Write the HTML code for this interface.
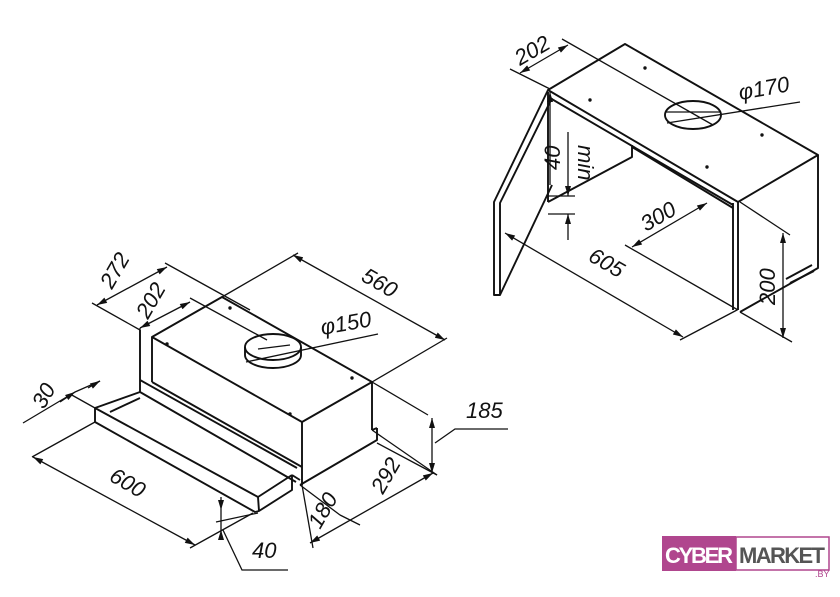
<!DOCTYPE html>
<html><head><meta charset="utf-8"><style>
html,body{margin:0;padding:0;background:#fff;}
svg{display:block}
text{font-family:"Liberation Sans",sans-serif;font-style:italic;fill:#111;}
</style></head><body>
<svg width="840" height="597" viewBox="0 0 840 597" xmlns="http://www.w3.org/2000/svg">
<defs>
<marker id="a" viewBox="0 0 10 6" refX="10" refY="3" markerWidth="11" markerHeight="6" orient="auto-start-reverse" markerUnits="userSpaceOnUse"><path d="M0,0 L10,3 L0,6 z" fill="#111"/></marker>
</defs>
<g stroke="#111" fill="none" stroke-width="1.3">
<!-- dims left -->
<path d="M97,305 L167,267" marker-start="url(#a)" marker-end="url(#a)"/>
<path d="M165,263 L250,310 M92,303 L140,330 M140,328 L140,340"/>
<path d="M140,328 L190,302" marker-start="url(#a)" marker-end="url(#a)"/>
<path d="M190,298 L267,340"/>
<path d="M293,255 L445,340" marker-start="url(#a)" marker-end="url(#a)"/>
<path d="M298,253 L222,297 M372,382 L447,338"/>
<path d="M246,362 L378,334 M258,349 L290,345"/>
<path d="M23,423 L75,392 M75,392 L100,381" />
<path d="M60,402 L75,392" marker-end="url(#a)"/>
<path d="M100,381 L88,388" marker-start="url(#a)"/>
<path d="M70,394 L95,408"/>
<path d="M33,457 L195,545" marker-start="url(#a)" marker-end="url(#a)"/>
<path d="M95,422 L32,457 M253,513 L190,548"/>
<path d="M221,497 L221,510" marker-end="url(#a)"/>
<path d="M221,540 L221,530" marker-end="url(#a)"/>
<path d="M221,510 L221,530 M216,522 L258,513 M223,530 L242,570 L288,570"/>
<path d="M300,485 L340,515 M340,515 L360,525"/>
<path d="M310,543 L433,473" marker-start="url(#a)" marker-end="url(#a)"/>
<path d="M377,443 L437,475 M302,485 L313,548"/>
<path d="M432,418 L432,473" marker-start="url(#a)" marker-end="url(#a)"/>
<path d="M372,382 L428,415 M372,430 L437,475 M435,443 L455,429 L508,429"/>
<!-- dims right -->
<path d="M667,123 L800,102 M666,112 L720,112"/>
<path d="M520,73 L568,45" marker-start="url(#a)" marker-end="url(#a)"/>
<path d="M510,69 L550,89 M562,39 L713,125"/>
<path d="M550,107 L550,92" marker-end="url(#a)"/>
<path d="M550,107 L550,185"/>
<path d="M568,132 L568,196" marker-end="url(#a)"/>
<path d="M568,240 L568,214" marker-end="url(#a)"/>
<path d="M548,196 L575,196 M548,214 L575,214"/>
<path d="M632,247 L707,203" marker-start="url(#a)" marker-end="url(#a)"/>
<path d="M625,245 L738,310"/>
<path d="M505,233 L683,337" marker-start="url(#a)" marker-end="url(#a)"/>
<path d="M680,340 L737,310"/>
<path d="M783,233 L783,338" marker-start="url(#a)" marker-end="url(#a)"/>
<path d="M740,312 L792,342 M740,202 L790,235"/>
</g>
<g stroke="#111" fill="none" stroke-width="1.9" stroke-linejoin="round">
<!-- LEFT HOOD -->
<path d="M152,337 L222,297 L372,382 L302,422 Z"/>
<path d="M302,422 L302,467 M372,382 L372,430 M152,337 L152,382"/>
<path d="M140,330 L140,392 M140,380 L297,468 M140,392 L296,482 M152,382 L302,467"/>
<path d="M377,428 L377,440 L300,485 M372,430 L377,428 M302,467 L302,485 M292,475 L300,480"/>
<path d="M95,408 L258,497 L292,475 M95,408 L95,422 L255,512 L259,511 L258,497 M259,511 L292,490 L292,475"/>
<path d="M95,408 L140,392 M110,412 L140,398"/>
<ellipse cx="273" cy="347" rx="28" ry="13"/>
<path d="M245,347 L245,355 M301,347 L301,355 M245,355 A28,13 0 0 0 301,355"/>
<!-- RIGHT CABINET -->
<path d="M548,90 L625,44 L818,155 L738,202 Z"/>
<path d="M818,155 L818,268 L740,312 M738,202 L738,310 M733,203 L733,310 M550,98 L733,205"/>
<path d="M632,145 L632,157 L548,202 M632,147 L733,208 M548,92 L548,202"/>
<path d="M548,90 L494,202 L494,295 L500,295 L500,203 L552,98 M500,295 L552,185"/>
<path d="M786,279 L812,265 M790,283 L814,271"/>
<ellipse cx="693" cy="115" rx="28" ry="14"/>
</g>
<g fill="#111">
<circle cx="230" cy="308" r="1.7"/><circle cx="167" cy="344" r="1.7"/><circle cx="352" cy="378" r="1.7"/><circle cx="290" cy="414" r="1.7"/>
<circle cx="645" cy="68" r="1.7"/><circle cx="590" cy="100" r="1.7"/><circle cx="762" cy="135" r="1.7"/><circle cx="707" cy="167" r="1.7"/>
</g>
<g font-size="22">
<text transform="translate(112,290) rotate(-60)">272</text>
<text transform="translate(148,320) rotate(-60)">202</text>
<text transform="translate(360,280) rotate(30)">560</text>
<text transform="translate(322,335) rotate(-10)">φ150</text>
<text transform="translate(44,410) rotate(-60)">30</text>
<text transform="translate(108,480) rotate(30)">600</text>
<text x="252" y="558">40</text>
<text transform="translate(320,530) rotate(-60)">180</text>
<text transform="translate(383,495) rotate(-60)">292</text>
<text x="466" y="418">185</text>
<text transform="translate(520,66) rotate(-30)">202</text>
<text transform="translate(740,100) rotate(-10)">φ170</text>
<text transform="translate(560,170) rotate(-90)">40</text>
<text transform="translate(578,145) rotate(90)">min</text>
<text transform="translate(646,232) rotate(-30)">300</text>
<text transform="translate(587,260) rotate(30)">605</text>
<text transform="translate(775,305) rotate(-90)">200</text>
</g>
<!-- logo -->
<rect x="662" y="536" width="74" height="35" fill="#b0468e"/>
<rect x="736" y="537" width="93" height="33" fill="#fff" stroke="#b0468e" stroke-width="1.5"/>
<text x="665" y="563" font-size="22" textLength="68" style="font-style:normal;fill:#fff;font-weight:bold">CYBER</text>
<text x="739" y="563" font-size="22" textLength="86" style="font-style:normal;fill:#555;font-weight:bold">MARKET</text>
<text x="815" y="577" font-size="9" style="font-style:normal;fill:#b0468e">.BY</text>
</svg>
</body></html>
